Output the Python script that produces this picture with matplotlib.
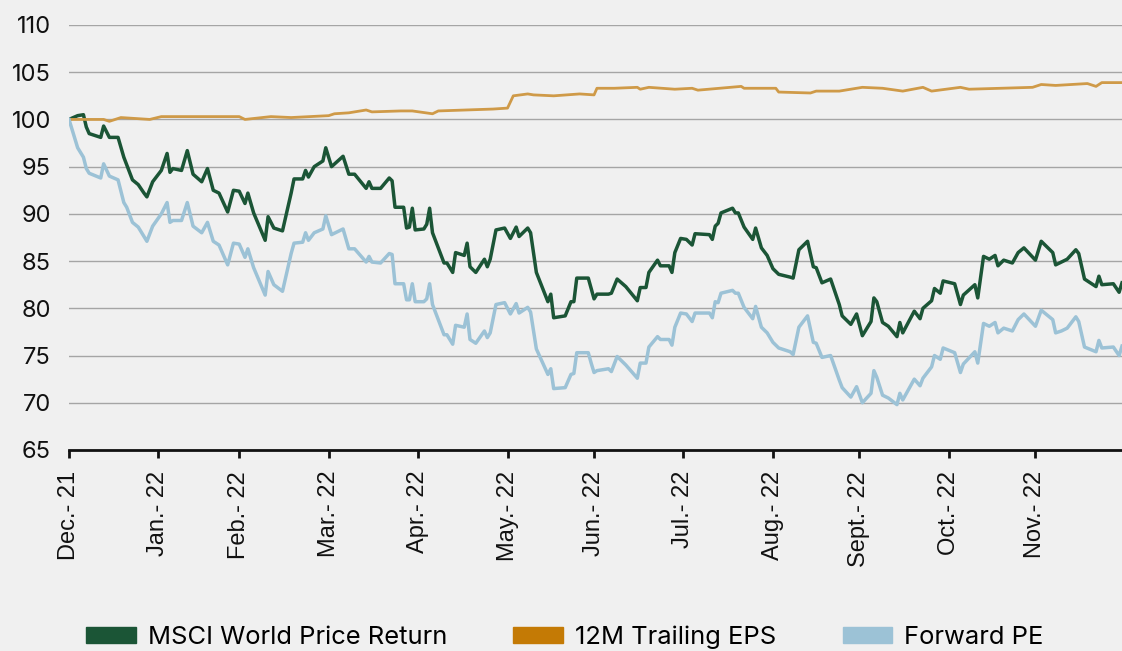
import pandas as pd
import matplotlib.pyplot as plt
from matplotlib.patches import Patch

# Days since 1 Dec 2021 (shared by price return and forward PE)
days = [0, 3, 5, 6, 7, 11, 12, 14, 17, 19, 20, 22, 24, 26, 27, 29, 32, 34, 35, 36,
        39, 41, 43, 46, 48, 50, 52, 55, 57, 59, 61, 62, 64, 68, 69, 71, 74, 77, 78, 81,
        82, 83, 85, 88, 89, 91, 95, 97, 99, 103, 104, 105, 108, 111, 112, 113, 116, 117, 118, 119,
        120, 123, 124, 125, 126, 130, 131, 133, 134, 137, 138, 139, 141, 144, 145, 146, 148, 151, 153, 155,
        156, 159, 160, 162, 166, 167, 168, 172, 174, 175, 176, 180, 181, 182, 183, 187, 188, 190, 193, 197,
        198, 200, 201, 204, 205, 208, 209, 210, 212, 214, 216, 217, 222, 223, 224, 225, 226, 230, 231, 232,
        234, 237, 238, 240, 242, 244, 246, 250, 251, 253, 256, 258, 259, 261, 264, 267, 268, 271, 273, 275,
        278, 279, 280, 282, 284, 287, 288, 289, 293, 295, 296, 299, 300, 302, 303, 307, 309, 310, 314, 315,
        317, 319, 321, 322, 324, 327, 329, 331, 335, 337, 341, 342, 344, 346, 349, 350, 352, 356, 357, 358,
        362, 364, 365]

msci = [100, 100.4, 100.5, 99.2, 98.5, 98.1, 99.3, 98.1, 98.1, 96.0, 95.2, 93.6, 93.1, 92.2, 91.8, 93.4, 94.6, 96.4, 94.4, 94.8,
        94.6, 96.7, 94.2, 93.4, 94.8, 92.5, 92.2, 90.2, 92.5, 92.4, 91.1, 92.2, 90.1, 87.2, 89.7, 88.5, 88.2, 92.2, 93.7, 93.7,
        94.6, 93.9, 95.0, 95.6, 97.0, 95.0, 96.1, 94.2, 94.2, 92.7, 93.4, 92.7, 92.7, 93.8, 93.5, 90.7, 90.7, 88.5, 88.6, 90.6,
        88.3, 88.4, 88.9, 90.6, 88.0, 84.8, 84.8, 83.8, 85.9, 85.6, 86.9, 84.4, 83.8, 85.2, 84.4, 85.2, 88.3, 88.5, 87.4, 88.6,
        87.6, 88.5, 88.0, 83.8, 80.7, 81.5, 79.0, 79.2, 80.7, 80.7, 83.2, 83.2, 82.1, 81.0, 81.5, 81.5, 81.6, 83.1, 82.3, 80.8,
        82.2, 82.2, 83.8, 85.1, 84.5, 84.5, 83.8, 85.9, 87.4, 87.3, 86.7, 87.9, 87.8, 87.3, 88.7, 89.0, 90.1, 90.6, 90.1, 90.1,
        88.6, 87.3, 88.5, 86.4, 85.6, 84.2, 83.6, 83.3, 83.2, 86.2, 87.1, 84.4, 84.3, 82.7, 83.1, 80.4, 79.2, 78.3, 79.4, 77.1,
        78.6, 81.1, 80.7, 78.5, 78.1, 77.0, 78.5, 77.4, 79.7, 78.9, 80.0, 80.8, 82.1, 81.6, 82.9, 82.6, 80.4, 81.4, 82.5, 81.1,
        85.5, 85.2, 85.6, 84.5, 85.1, 84.8, 85.9, 86.4, 85.1, 87.1, 85.9, 84.6, 84.9, 85.2, 86.2, 85.8, 83.1, 82.3, 83.4, 82.5,
        82.6, 81.7, 82.7]

fwd_pe = [100, 97.0, 96.0, 94.8, 94.3, 93.8, 95.3, 94.0, 93.6, 91.2, 90.7, 89.1, 88.6, 87.6, 87.1, 88.7, 90.0, 91.2, 89.1, 89.3,
          89.3, 91.2, 88.7, 88.0, 89.1, 87.1, 86.7, 84.6, 86.9, 86.8, 85.4, 86.3, 84.3, 81.4, 83.9, 82.5, 81.8, 85.8, 86.9, 87.0,
          88.0, 87.2, 88.0, 88.4, 89.8, 87.8, 88.4, 86.3, 86.3, 84.9, 85.5, 84.9, 84.8, 85.8, 85.7, 82.6, 82.6, 80.9, 80.9, 82.6,
          80.7, 80.7, 81.0, 82.6, 80.4, 77.2, 77.2, 76.2, 78.2, 78.0, 79.4, 76.7, 76.3, 77.6, 76.9, 77.4, 80.4, 80.6, 79.4, 80.5,
          79.5, 80.1, 79.6, 75.7, 73.0, 73.6, 71.5, 71.6, 73.0, 73.1, 75.3, 75.3, 74.2, 73.2, 73.4, 73.6, 73.3, 74.9, 74.0, 72.6,
          74.2, 74.2, 75.9, 77.0, 76.7, 76.7, 76.1, 78.0, 79.5, 79.4, 78.6, 79.5, 79.5, 79.0, 80.7, 80.6, 81.6, 81.9, 81.6, 81.6,
          80.1, 78.9, 80.2, 78.0, 77.4, 76.4, 75.8, 75.4, 75.1, 78.0, 79.2, 76.4, 76.3, 74.8, 75.0, 72.4, 71.6, 70.6, 71.7, 70.0,
          71.0, 73.4, 72.7, 70.8, 70.5, 69.8, 71.0, 70.3, 72.5, 71.8, 72.6, 73.8, 75.0, 74.6, 75.8, 75.3, 73.2, 74.1, 75.4, 74.2,
          78.4, 78.1, 78.5, 77.4, 77.9, 77.6, 78.8, 79.4, 78.1, 79.8, 78.8, 77.4, 77.6, 77.9, 79.1, 78.6, 75.9, 75.4, 76.6, 75.8,
          75.9, 75.0, 76.0]

eps_days = [0, 12, 14, 18, 28, 32, 42, 59, 61, 70, 77, 90, 92, 97, 103, 105, 115, 119, 126, 128,
            147, 152, 154, 159, 161, 168, 177, 182, 183, 189, 197, 198, 201, 210, 216, 218, 233, 234, 245, 246,
            257, 259, 267, 275, 282, 289, 296, 299, 309, 312, 334, 337, 342, 353, 356, 358, 365]
eps = [100, 100, 99.8, 100.2, 100, 100.3, 100.3, 100.3, 100.0, 100.3, 100.2, 100.4, 100.6, 100.7, 101.0, 100.8, 100.9, 100.9, 100.6, 100.9,
       101.1, 101.2, 102.5, 102.7, 102.6, 102.5, 102.7, 102.6, 103.3, 103.3, 103.4, 103.2, 103.4, 103.2, 103.3, 103.1, 103.5, 103.3, 103.3, 102.9,
       102.8, 103.0, 103.0, 103.4, 103.3, 103.0, 103.4, 103.0, 103.4, 103.2, 103.4, 103.7, 103.6, 103.8, 103.5, 103.9, 103.9]

# month labels and the days (since 1 Dec 2021) where the chart puts them
months = ["Dec.- 21", "Jan.- 22", "Feb.- 22", "Mar.- 22", "Apr.- 22", "May.- 22",
          "Jun.- 22", "Jul.- 22", "Aug.- 22", "Sept.- 22", "Oct.- 22", "Nov.- 22"]
month_days = [0, 31, 59, 90, 121, 152, 182, 213, 244, 274, 305, 335]

start = pd.Timestamp("2021-12-01")
dates = start + pd.to_timedelta(days, unit="D")
eps_dates = start + pd.to_timedelta(eps_days, unit="D")
tick_dates = start + pd.to_timedelta(month_days, unit="D")

green = "#1b5536"
orange_line = "#cf9a48"
orange = "#c47a05"
blue = "#9cc2d6"
bg = "#f0f0f0"

fig = plt.figure(figsize=(11.22, 6.51), dpi=100, facecolor=bg)
ax = fig.add_axes([0.0615, 0.3088, 0.9385, 0.6528], facecolor=bg)

ax.plot(dates, msci, color=green, lw=2.5, zorder=3)
ax.plot(eps_dates, eps, color=orange_line, lw=2.0, zorder=3)
ax.plot(dates, fwd_pe, color=blue, lw=2.5, zorder=3)

ax.set_ylim(65, 110)
ax.set_yticks(range(65, 111, 5))
ax.set_xlim(start, pd.Timestamp("2022-12-01"))
ax.set_xticks(tick_dates)
ax.set_xticklabels(months, rotation=90, family="Liberation Sans", fontsize=17)
for lab in ax.get_yticklabels():
    lab.set_family("Inter")
    lab.set_fontsize(17)

ax.grid(axis="y", color="#a5a5a5", lw=1)
ax.set_axisbelow(True)
for s in ["left", "top", "right"]:
    ax.spines[s].set_visible(False)
ax.spines["bottom"].set_linewidth(2)
ax.spines["bottom"].set_color("#111111")
ax.tick_params(axis="y", length=0, pad=13, colors="#111111")
ax.tick_params(axis="x", length=6, width=2, pad=9, colors="#111111")

handles = [Patch(color=green), Patch(color=orange), Patch(color=blue)]
labels = ["MSCI World Price Return", "12M Trailing EPS", "Forward PE"]
fig.legend(handles, labels, loc="center", bbox_to_anchor=(0.5036, 0.021), ncol=3, frameon=False,
           prop={"family": "Inter", "size": 18.4}, handlelength=1.95, handleheight=0.55,
           handletextpad=0.47, columnspacing=2.58)

fig.savefig("out.png", dpi=100, facecolor=bg)
